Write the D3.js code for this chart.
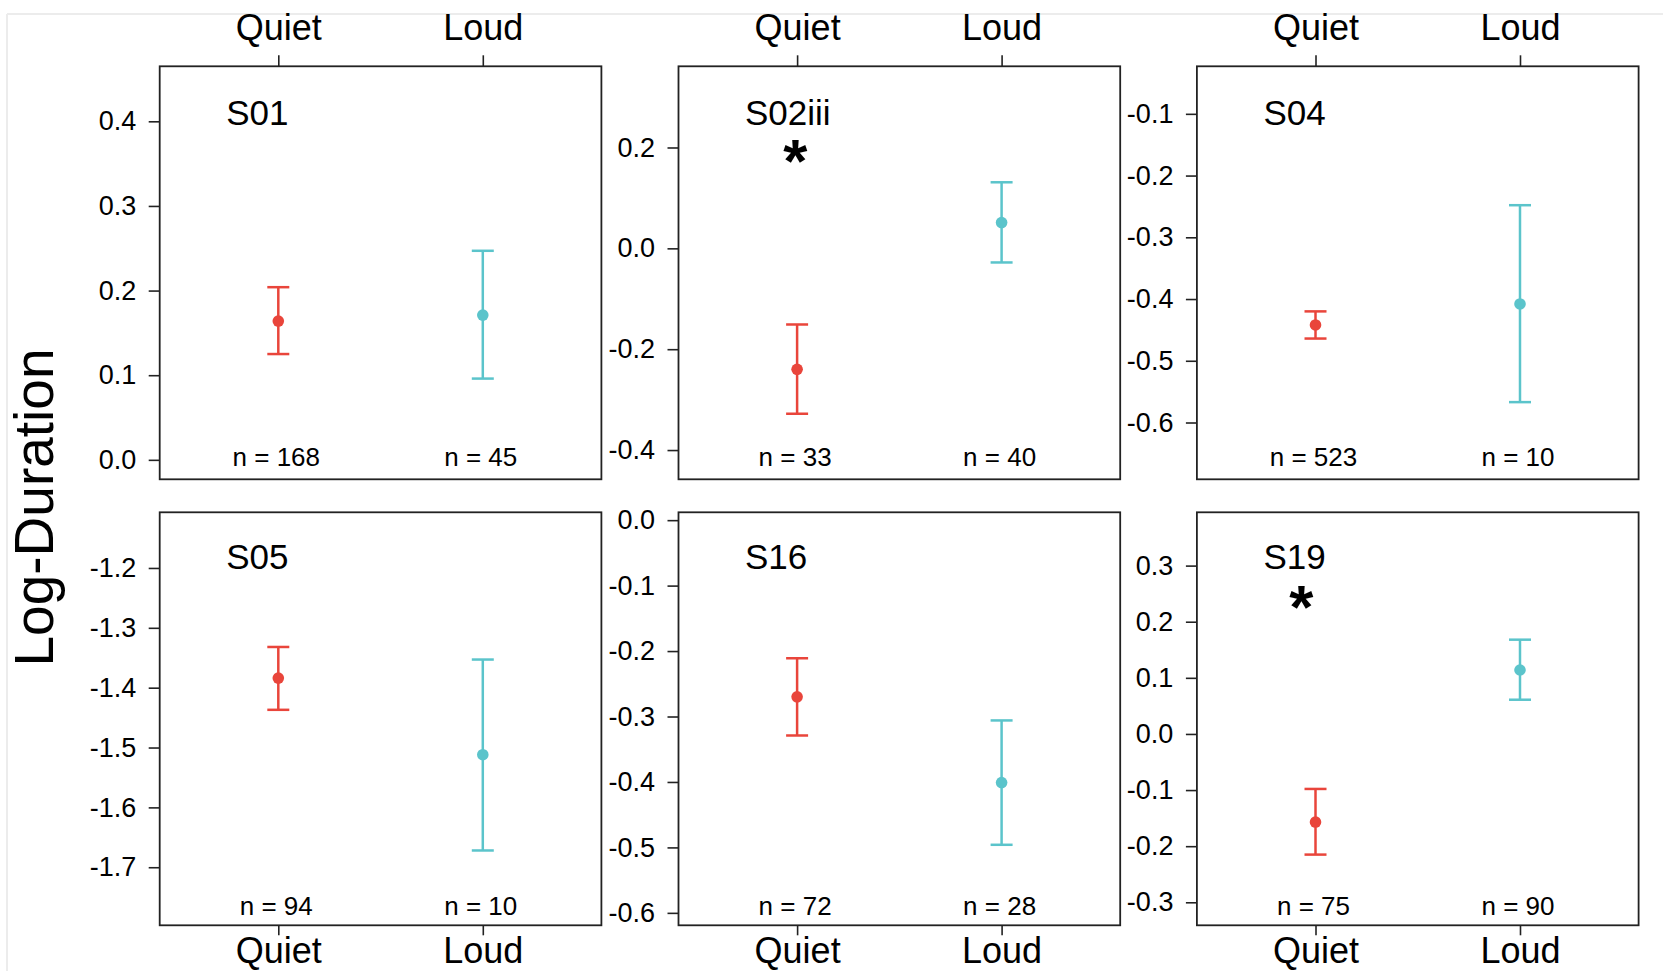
<!DOCTYPE html>
<html>
<head>
<meta charset="utf-8">
<script src="https://cdn.jsdelivr.net/npm/d3@7"></script>
<style>
  html, body { margin: 0; padding: 0; background: #fff; }
  svg { display: block; font-family: "Liberation Sans", Arial, Helvetica, sans-serif; }
</style>
</head>
<body>
<svg id="chart" width="1663" height="971"></svg>
<script>
// ---------------- DATA ----------------
const subjects   = ["S01", "S02iii", "S04", "S05", "S16", "S19"];
const groups     = ["Quiet", "Loud"];
const quietMean  = [0.164, -0.240, -0.442, -1.384, -0.270, -0.157];
const quietLower = [0.125, -0.328, -0.464, -1.437, -0.329, -0.215];
const quietUpper = [0.204, -0.151, -0.420, -1.332, -0.211, -0.098];
const loudMean   = [0.171,  0.051, -0.408, -1.512, -0.401,  0.114];
const loudLower  = [0.096, -0.028, -0.567, -1.672, -0.496,  0.061];
const loudUpper  = [0.247,  0.131, -0.248, -1.353, -0.306,  0.168];
const quietN     = [168, 33, 523, 94, 72, 75];
const loudN      = [45, 40, 10, 10, 28, 90];
const significant = [false, true, false, false, false, true];
const yMin = [-0.023, -0.458, -0.692, -1.797, -0.619, -0.341];
const yMax = [ 0.465,  0.361, -0.023, -1.107,  0.012,  0.395];
const yTicks = [
  [0.0, 0.1, 0.2, 0.3, 0.4],
  [-0.4, -0.2, 0.0, 0.2],
  [-0.6, -0.5, -0.4, -0.3, -0.2, -0.1],
  [-1.7, -1.6, -1.5, -1.4, -1.3, -1.2],
  [-0.6, -0.5, -0.4, -0.3, -0.2, -0.1, 0.0],
  [-0.3, -0.2, -0.1, 0.0, 0.1, 0.2, 0.3]
];
const yLabel = "Log-Duration";

// ---------------- LAYOUT ----------------
const colX = [159.7, 678.5, 1196.9];
const rowY = [66.3, 512.3];
const PW = 441.7, PH = 413;
const colors = ["#e9453b", "#5bc4cb"];
const starDx = [0, 116.8, 0, 0, 0, 104.4];   // star centre offset from panel left (px)
const FONT = "'Liberation Sans', Arial, Helvetica, sans-serif";

const svg = d3.select("#chart");

// light screenshot border
svg.append("line").attr("x1", 7).attr("x2", 1663).attr("y1", 14).attr("y2", 14)
  .attr("stroke", "#ececec").attr("stroke-width", 2);
svg.append("line").attr("x1", 7).attr("x2", 7).attr("y1", 14).attr("y2", 971)
  .attr("stroke", "#ececec").attr("stroke-width", 2);

subjects.forEach((name, i) => {
  const col = i % 3, row = Math.floor(i / 3);
  const x0 = colX[col], y0 = rowY[row];
  const x = d3.scaleLinear().domain([0.42, 2.58]).range([x0, x0 + PW]);
  const y = d3.scaleLinear().domain([yMin[i], yMax[i]]).range([y0 + PH, y0]);
  const g = svg.append("g");

  // y axis
  const ya = g.append("g").attr("transform", `translate(${x0},0)`)
    .call(d3.axisLeft(y).tickValues(yTicks[i]).tickFormat(d => d.toFixed(1))
      .tickSize(11).tickPadding(12.5).tickSizeOuter(0));
  ya.select(".domain").remove();
  ya.selectAll("line").attr("stroke", "#222").attr("stroke-width", 1.6);
  ya.selectAll("text").attr("font-size", 27).attr("font-family", FONT).attr("fill", "#000");

  // x axis (top row on top, bottom row at bottom)
  if (row === 0) {
    const xa = g.append("g").attr("transform", `translate(0,${y0})`)
      .call(d3.axisTop(x).tickValues([1, 2]).tickFormat(d => groups[d - 1])
        .tickSize(11).tickPadding(15.3).tickSizeOuter(0));
    xa.select(".domain").remove();
    xa.selectAll("line").attr("stroke", "#222").attr("stroke-width", 1.6);
    xa.selectAll("text").attr("font-size", 36).attr("font-family", FONT).attr("fill", "#000");
  } else {
    const xa = g.append("g").attr("transform", `translate(0,${y0 + PH})`)
      .call(d3.axisBottom(x).tickValues([1, 2]).tickFormat(d => groups[d - 1])
        .tickSize(10).tickPadding(2.5).tickSizeOuter(0));
    xa.select(".domain").remove();
    xa.selectAll("line").attr("stroke", "#222").attr("stroke-width", 1.6);
    xa.selectAll("text").attr("font-size", 36).attr("font-family", FONT).attr("fill", "#000");
  }

  // frame
  g.append("rect").attr("x", x0).attr("y", y0).attr("width", PW).attr("height", PH)
    .attr("fill", "none").attr("stroke", "#222").attr("stroke-width", 1.8);

  // error bars
  const pts = [
    { gi: 0, m: quietMean[i], lo: quietLower[i], hi: quietUpper[i], n: quietN[i] },
    { gi: 1, m: loudMean[i],  lo: loudLower[i],  hi: loudUpper[i],  n: loudN[i] }
  ];
  const cap = 11;
  pts.forEach(p => {
    const cx = x(p.gi + 1), c = colors[p.gi];
    g.append("line").attr("x1", cx).attr("x2", cx).attr("y1", y(p.lo)).attr("y2", y(p.hi))
      .attr("stroke", c).attr("stroke-width", 2.5);
    [p.lo, p.hi].forEach(v => {
      g.append("line").attr("x1", cx - cap).attr("x2", cx + cap).attr("y1", y(v)).attr("y2", y(v))
        .attr("stroke", c).attr("stroke-width", 2.5);
    });
    g.append("circle").attr("cx", cx).attr("cy", y(p.m)).attr("r", 5.8).attr("fill", c);
    g.append("text").attr("x", cx - 2).attr("y", y0 + PH - (row === 0 ? 13.8 : 10.5))
      .attr("text-anchor", "middle").attr("font-size", 26).attr("font-family", FONT)
      .text("n = " + p.n);
  });

  // panel label
  g.append("text").attr("x", x0 + 66.5).attr("y", y0 + (row === 0 ? 58.7 : 57))
    .attr("font-size", 35).attr("font-family", FONT).text(name);

  if (significant[i]) {
    g.append("text").attr("x", x0 + starDx[i]).attr("y", y0 + 116)
      .attr("text-anchor", "middle").attr("font-size", 62).attr("font-weight", "bold")
      .attr("font-family", FONT).text("*");
  }
});

// y axis title
svg.append("text").attr("transform", "translate(53,507.5) rotate(-90)")
  .attr("text-anchor", "middle").attr("font-size", 55).attr("font-family", FONT)
  .text(yLabel);
</script>
</body>
</html>
